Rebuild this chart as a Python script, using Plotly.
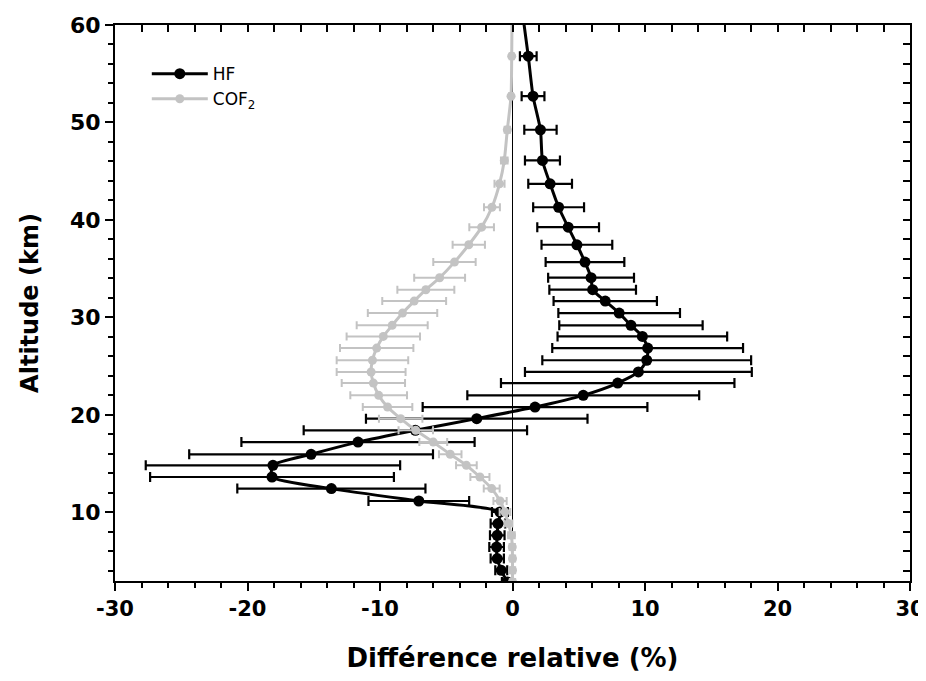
import plotly.graph_objects as go

# Altitude levels (km)
altitude = [61.6, 56.8, 52.7, 49.25, 46.1, 43.7, 41.3, 39.26, 37.45, 35.67, 34.07, 32.84,
            31.67, 30.44, 29.18, 28.05, 26.85, 25.6, 24.4, 23.26, 22.0, 20.8, 19.61, 18.41,
            17.2, 15.95, 14.82, 13.62, 12.43, 11.16, 10.03, 8.84, 7.64, 6.44, 5.25, 4.05, 2.85]

# HF relative difference (%) and uncertainty
hf_diff = [0.72, 1.19, 1.55, 2.11, 2.26, 2.84, 3.48, 4.2, 4.86, 5.47, 5.93, 6.05,
           7.0, 8.05, 8.94, 9.8, 10.2, 10.13, 9.5, 7.94, 5.34, 1.7, -2.7, -7.33,
           -11.66, -15.2, -18.08, -18.15, -13.67, -7.07, -0.95, -1.1, -1.15, -1.2, -1.15, -0.85, -0.4]
hf_err = [0.5, 0.63, 0.86, 1.22, 1.32, 1.65, 1.92, 2.33, 2.67, 2.97, 3.24, 3.27,
          3.9, 4.59, 5.41, 6.4, 7.2, 7.88, 8.56, 8.81, 8.75, 8.48, 8.36, 8.43,
          8.8, 9.2, 9.6, 9.2, 7.1, 3.8, 0.6, 0.55, 0.55, 0.55, 0.5, 0.45, 0.4]

# COF2 relative difference (%) and uncertainty
cof2_diff = [-0.03, -0.06, -0.11, -0.39, -0.62, -0.98, -1.55, -2.33, -3.3, -4.38, -5.5, -6.54,
             -7.42, -8.3, -9.08, -9.75, -10.25, -10.57, -10.67, -10.5, -10.1, -9.43, -8.44, -7.3,
             -5.98, -4.7, -3.48, -2.46, -1.57, -0.94, -0.57, -0.31, -0.08, -0.02, 0.0, 0.0, 0.0]
cof2_err = [0.15, 0.15, 0.15, 0.2, 0.25, 0.38, 0.6, 0.93, 1.22, 1.6, 1.92, 2.15,
            2.41, 2.62, 2.68, 2.77, 2.77, 2.7, 2.6, 2.39, 2.14, 1.87, 1.64, 1.3,
            1.05, 0.85, 0.78, 0.72, 0.6, 0.5, 0.4, 0.3, 0.25, 0.2, 0.2, 0.2, 0.2]

x_ticks = [-30, -20, -10, 0, 10, 20, 30]
y_ticks = [10, 20, 30, 40, 50, 60]

FONT = "DejaVu Sans"
GREY = "#c3c3c3"

fig = go.Figure()

fig.add_trace(go.Scatter(
    x=hf_diff, y=altitude, name="HF", mode="lines+markers",
    line=dict(color="black", width=3, shape="spline", smoothing=0.6),
    marker=dict(color="black", size=11),
    error_x=dict(type="data", array=hf_err, visible=True, color="black",
                 thickness=2.2, width=5),
))

fig.add_trace(go.Scatter(
    x=cof2_diff, y=altitude, name="COF<sub>2</sub>", mode="lines+markers",
    line=dict(color=GREY, width=3, shape="spline", smoothing=0.6),
    marker=dict(color=GREY, size=9),
    error_x=dict(type="data", array=cof2_err, visible=True, color=GREY,
                 thickness=2, width=4),
))

# empty trace to carry the mirrored (inside-tick) top/right axes
fig.add_trace(go.Scatter(x=[], y=[], xaxis="x2", yaxis="y2", showlegend=False,
                         hoverinfo="skip"))

ytickfont = dict(family=FONT, size=22, color="black", weight="bold")
xtickfont = dict(family=FONT, size=21, color="black", weight="bold")

fig.update_layout(
    width=918, height=665,
    margin=dict(l=107, r=16, t=17, b=92, autoexpand=False),
    paper_bgcolor="white", plot_bgcolor="white",
    showlegend=True,
    legend=dict(x=0.040, y=0.944, xanchor="left", yanchor="top",
                bgcolor="rgba(0,0,0,0)", borderwidth=0,
                font=dict(family=FONT, size=17, color="black"),
                itemwidth=56, tracegroupgap=0),
    xaxis=dict(
        range=[-30, 30], tickmode="array", tickvals=x_ticks,
        ticktext=[str(v) for v in x_ticks], automargin=False,
        ticklabeloverflow="allow",
        ticks="outside", ticklen=8, tickwidth=2, tickcolor="black",
        minor=dict(dtick=2, tick0=0, ticks="outside", ticklen=5, tickwidth=2, tickcolor="black"),
        showline=True, linewidth=2, linecolor="black", mirror=True,
        showgrid=False, zeroline=True, zerolinecolor="black", zerolinewidth=1,
        tickfont=xtickfont,
        title=dict(text="Différence relative (%)", standoff=36,
                   font=dict(family=FONT, size=26, color="black", weight="bold")),
    ),
    yaxis=dict(
        range=[2.95, 60], tickmode="array", tickvals=y_ticks,
        ticktext=[str(v) for v in y_ticks], automargin=False,
        ticks="outside", ticklen=8, tickwidth=2, tickcolor="black",
        minor=dict(dtick=2, tick0=0, ticks="outside", ticklen=5, tickwidth=2, tickcolor="black"),
        showline=True, linewidth=2, linecolor="black", mirror=True,
        showgrid=False, zeroline=False,
        tickfont=ytickfont,
        title=dict(text="Altitude (km)", standoff=25,
                   font=dict(family=FONT, size=24, color="black", weight="bold")),
    ),
    xaxis2=dict(
        range=[-30, 30], overlaying="x", side="top", anchor="y", automargin=False,
        dtick=2, tick0=0, ticks="inside", ticklen=7, tickwidth=2, tickcolor="black",
        showticklabels=False, showgrid=False, zeroline=False, showline=False,
    ),
    yaxis2=dict(
        range=[2.95, 60], overlaying="y", side="right", anchor="x", automargin=False,
        dtick=2, tick0=0, ticks="inside", ticklen=7, tickwidth=2, tickcolor="black",
        showticklabels=False, showgrid=False, zeroline=False, showline=False,
    ),
)

fig.write_html("out.html")
